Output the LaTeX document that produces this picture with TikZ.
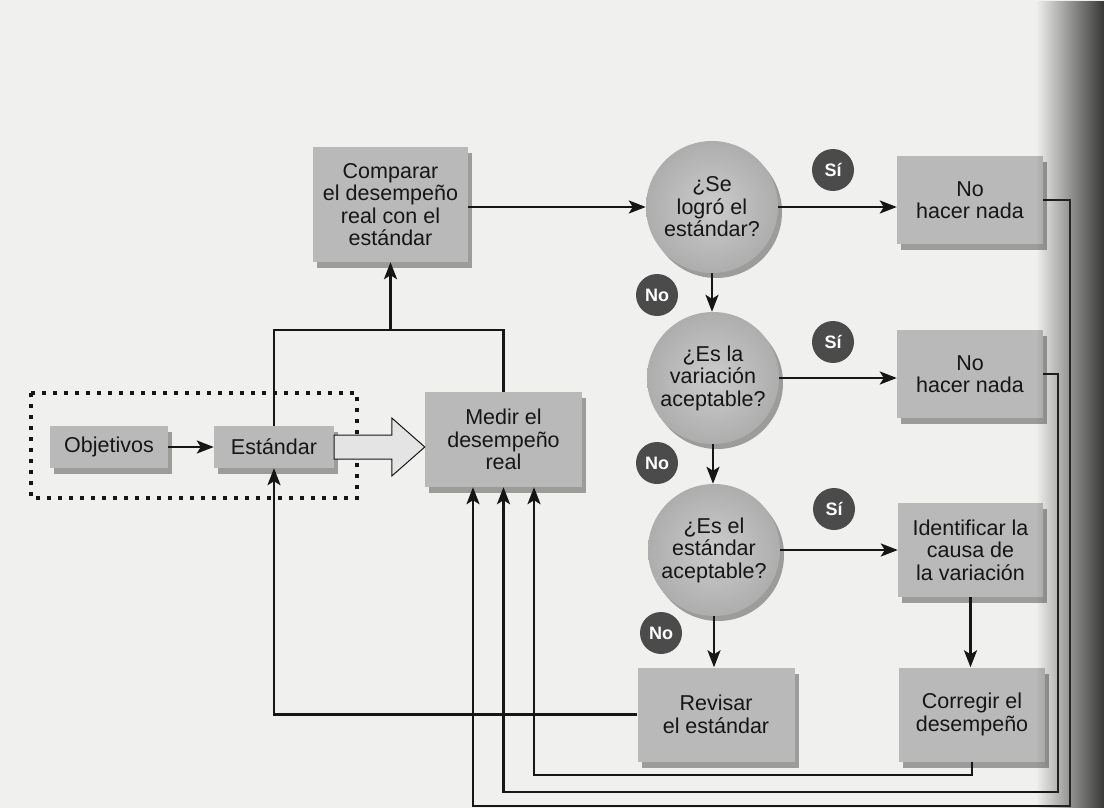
\documentclass[tikz,border=0pt]{standalone}
\usepackage{fontspec}
\setmainfont{Liberation Sans}
\usetikzlibrary{arrows.meta,shadows,fadings,calc}
\definecolor{pagebg}{HTML}{F0F0EE}
\definecolor{boxgray}{HTML}{B9B9B9}
\definecolor{badgegray}{HTML}{4B4B4B}
\definecolor{inkblack}{HTML}{161616}
\definecolor{arrowfill}{HTML}{E4E4E4}
\tikzfading[name=fadetoright, left color=transparent!100, right color=transparent!0]
\begin{document}
\begin{tikzpicture}[x=1pt,y=-1pt,
  every node/.style={text=inkblack},
  box/.style={rectangle, fill=boxgray, align=center, inner sep=0pt,
    font=\fontsize{21.5}{22.5}\selectfont,
    drop shadow={shadow xshift=4pt, shadow yshift=-6pt, opacity=0.35, fill=black}},
  ques/.style={circle, inner sep=0pt, minimum size=132pt, align=center,
    inner color=black!20, outer color=black!32,
    font=\fontsize{21.5}{22.5}\selectfont,
    drop shadow={shadow xshift=4pt, shadow yshift=-5pt, opacity=0.35, fill=black}},
  badgesty/.style={circle, fill=badgegray, text=white, inner sep=0pt, minimum size=42pt,
    font=\bfseries\fontsize{18}{18}\selectfont},
  conn/.style={draw=inkblack, line width=2.6pt, -{Stealth[length=17pt,width=13pt,inset=4pt]}},
  plain/.style={draw=inkblack, line width=2.6pt},
]
\useasboundingbox (0,0) rectangle (1104,808);
\fill[pagebg] (0,0) rectangle (1104,808);

% dotted frame round Objetivos and Estandar
\draw[inkblack, line width=3.6pt, dash pattern=on 3.6pt off 7.4pt] (31,393) rectangle (357,498);

% nodes
\node[box, minimum width=155pt, minimum height=115pt] (cmp) at (390.5,204.5) {Comparar\\el desempeño\\real con el\\estándar};
\node[box, minimum width=118pt, minimum height=42pt] (obj) at (109,447) {Objetivos};
\node[box, minimum width=120pt, minimum height=42pt] (est) at (274,447) {Estándar};
\node[box, minimum width=157pt, minimum height=95pt] (med) at (503.5,439.5) {Medir el\\desempeño\\real};
\node[ques] (q1) at (712,207) {¿Se\\logró el\\estándar?};
\node[ques] (q2) at (713,378) {¿Es la\\variación\\aceptable?};
\node[ques] (q3) at (714,550) {¿Es el\\estándar\\aceptable?};
\node[box, minimum width=146pt, minimum height=88pt] (nh1) at (970,200) {No\\hacer nada};
\node[box, minimum width=146pt, minimum height=88pt] (nh2) at (970,374) {No\\hacer nada};
\node[box, minimum width=145pt, minimum height=94pt] (idf) at (970.5,550) {Identificar la\\causa de\\la variación};
\node[box, minimum width=146pt, minimum height=94pt] (cor) at (972,714.5) {Corregir el\\desempeño};
\node[box, minimum width=157pt, minimum height=94pt] (rev) at (716,714.5) {Revisar\\el estándar};

% hollow arrow from Estandar to Medir
\coordinate (tip) at (med.west |- est.east);
\draw[inkblack, line width=1pt, fill=arrowfill, line join=miter]
  ($(est.east)+(0,-12)$) -- ($(tip)+(-33,-12)$) -- ($(tip)+(-33,-29)$) -- (tip)
  -- ($(tip)+(-33,29)$) -- ($(tip)+(-33,12)$) -- ($(est.east)+(0,12)$) -- cycle;

% helper coordinates
\coordinate (jy) at (0,330);
\coordinate (m1) at ($(med.south)+(-30.5,0)$);
\coordinate (m2) at (med.south);
\coordinate (m3) at ($(med.south)+(30.5,0)$);
\coordinate (c1) at (1070,806);
\coordinate (c2) at (1058,792);
\coordinate (c3) at (0,775);

% main flow
\draw[conn] (obj.east) -- (est.west);
\draw[conn] (cmp.east |- q1.west) -- (q1.west);
\draw[conn] (q1.east) -- (q1.east -| nh1.west);
\draw[conn] (q1.south) -- (q1.south |- q2.north);
\draw[conn] (q2.east) -- (q2.east -| nh2.west);
\draw[conn] (q2.south) -- (q2.south |- q3.north);
\draw[conn] (q3.east) -- (q3.east -| idf.west);
\draw[conn] (q3.south) -- (q3.south |- rev.north);
\draw[conn] (idf.south) -- (idf.south |- cor.north);

% standard to compare and measure
\draw[plain] (est.north) -- (est.north |- jy) -- (med.north |- jy) -- (med.north);
\draw[conn] (cmp.south |- jy) -- (cmp.south);

% feedback loops
\draw[conn] (nh1.east) -| (c1) -- (c1 -| m1) -- (m1);
\draw[conn] (nh2.east) -| (c2) -- (c2 -| m2) -- (m2);
\draw[conn] (cor.south) -- (cor.south |- c3) -- (c3 -| m3) -- (m3);
\draw[conn] (rev.west) -- (rev.west -| est.south) -- (est.south);

% badges
\node[badgesty] (s1) at (833,170) {Sí};
\node[badgesty] (s2) at (833,342) {Sí};
\node[badgesty] (s3) at (834,509) {Sí};
\node[badgesty] (n1) at (657,295) {No};
\node[badgesty] (n2) at (657,463) {No};
\node[badgesty] (n3) at (661,633) {No};

% page binding shadow at the right edge
\fill[black!78, path fading=fadetoright] (1036,0) rectangle (1104,808);
\end{tikzpicture}
\end{document}
